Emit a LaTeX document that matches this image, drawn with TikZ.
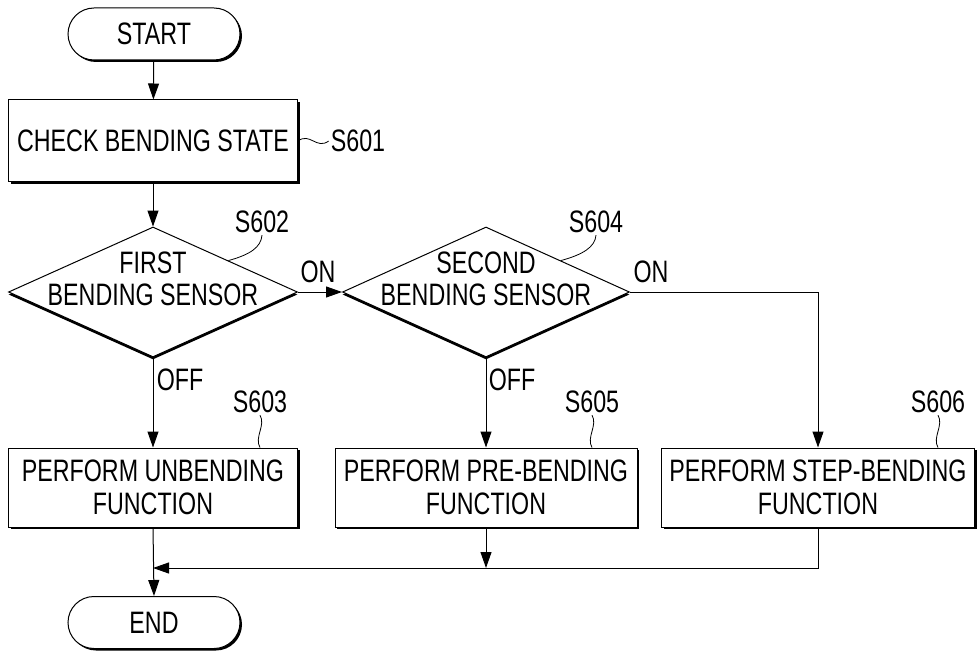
\documentclass[tikz,border=0pt]{standalone}
\usepackage{fontspec}
\setmainfont{Liberation Sans}[FakeStretch=0.75]
\usetikzlibrary{shapes.geometric,shapes.misc,arrows.meta,shadows,calc}
\begin{document}
\begin{tikzpicture}[x=1pt,y=-1pt,
  every node/.style={font=\fontsize{31}{32.5}\selectfont, inner sep=0pt},
  arr/.style={line width=1pt,-{Triangle[length=16pt,width=11pt]}},
  plain/.style={line width=1pt},
  lead/.style={line width=0.8pt},
  shad/.style={drop shadow={shadow xshift=2pt,shadow yshift=-2pt,fill=black,opacity=1}},
  boxnode/.style={draw,line width=1pt,fill=white,rectangle,align=center,shad},
  pill/.style={draw,line width=1pt,fill=white,rounded rectangle,minimum width=172pt,minimum height=52pt,shad},
  dianode/.style={draw,line width=1pt,fill=white,diamond,drop shadow={shadow xshift=0pt,shadow yshift=-2.5pt,fill=black,opacity=1}},
  dtext/.style={align=center},
  lbl/.style={inner sep=2pt}
]
\useasboundingbox (0,0) rectangle (977,655);

\node[pill] (start) at (154,34) {START};
\node[boxnode,minimum width=289pt,minimum height=82pt] (check) at (153,141) {CHECK BENDING STATE};
\node[dianode,minimum width=289pt,minimum height=130pt] (d1) at (153,292) {};
\node[dtext] (d1t) at (153,279) {FIRST\\BENDING SENSOR};
\node[dianode,minimum width=287pt,minimum height=130pt] (d2) at (486,292) {};
\node[dtext] (d2t) at (486,279) {SECOND\\BENDING SENSOR};
\node[boxnode,minimum width=289pt,minimum height=79pt] (s603) at (153,487.5) {PERFORM UNBENDING\\FUNCTION};
\node[boxnode,minimum width=302pt,minimum height=79pt] (s605) at (486,487.5) {PERFORM PRE-BENDING\\FUNCTION};
\node[boxnode,minimum width=313pt,minimum height=79pt] (s606) at (818,487.5) {PERFORM STEP-BENDING\\FUNCTION};
\node[pill] (end) at (154,622.5) {END};

% step labels
\node[lbl] (l601) at (358,141) {S601};
\node[lbl] (l602) at (262,222) {S602};
\node[lbl] (l604) at (596,222) {S604};
\node[lbl] (l603) at (260,402) {S603};
\node[lbl] (l605) at (592,402) {S605};
\node[lbl] (l606) at (938,402) {S606};

% branch labels
\node (on1) at (318,272) {ON};
\node (on2) at (651,272) {ON};
\node (off1) at (180,380) {OFF};
\node (off2) at (512,380) {OFF};

% connectors
\draw[arr] (start) -- (check);
\draw[arr] (check) -- (d1);
\draw[arr] (d1.east) -- (d2.west);
\draw[arr] (d2.east) -| (s606.north);
\draw[arr] (d1.south) -- (s603.north);
\draw[arr] (d2.south) -- (s605.north);
\draw[arr] (s603.south) -- (end.north);
\coordinate (m) at (153,568);
\draw[arr] (s605.south) -- (s605.south |- m);
\draw[arr] (s606.south) |- (m);

% leaders
\draw[lead] (check.east) .. controls +(12,-9) and +(-12,9) .. (l601.west);
\coordinate (p602) at ($(d1.north)!0.52!(d1.east)$);
\draw[lead] (l602.south) .. controls +(-1,12) and +(22,-6) .. (p602);
\coordinate (p604) at ($(d2.north)!0.52!(d2.east)$);
\draw[lead] (l604.south) .. controls +(-1,12) and +(22,-6) .. (p604);
\draw[lead] (l603.south) .. controls +(6,10) and +(-6,-10) .. (l603.south |- s603.north);
\draw[lead] (l605.south) .. controls +(6,10) and +(-6,-10) .. (l605.south |- s605.north);
\draw[lead] (l606.south) .. controls +(6,10) and +(-6,-10) .. (l606.south |- s606.north);
\end{tikzpicture}
\end{document}
